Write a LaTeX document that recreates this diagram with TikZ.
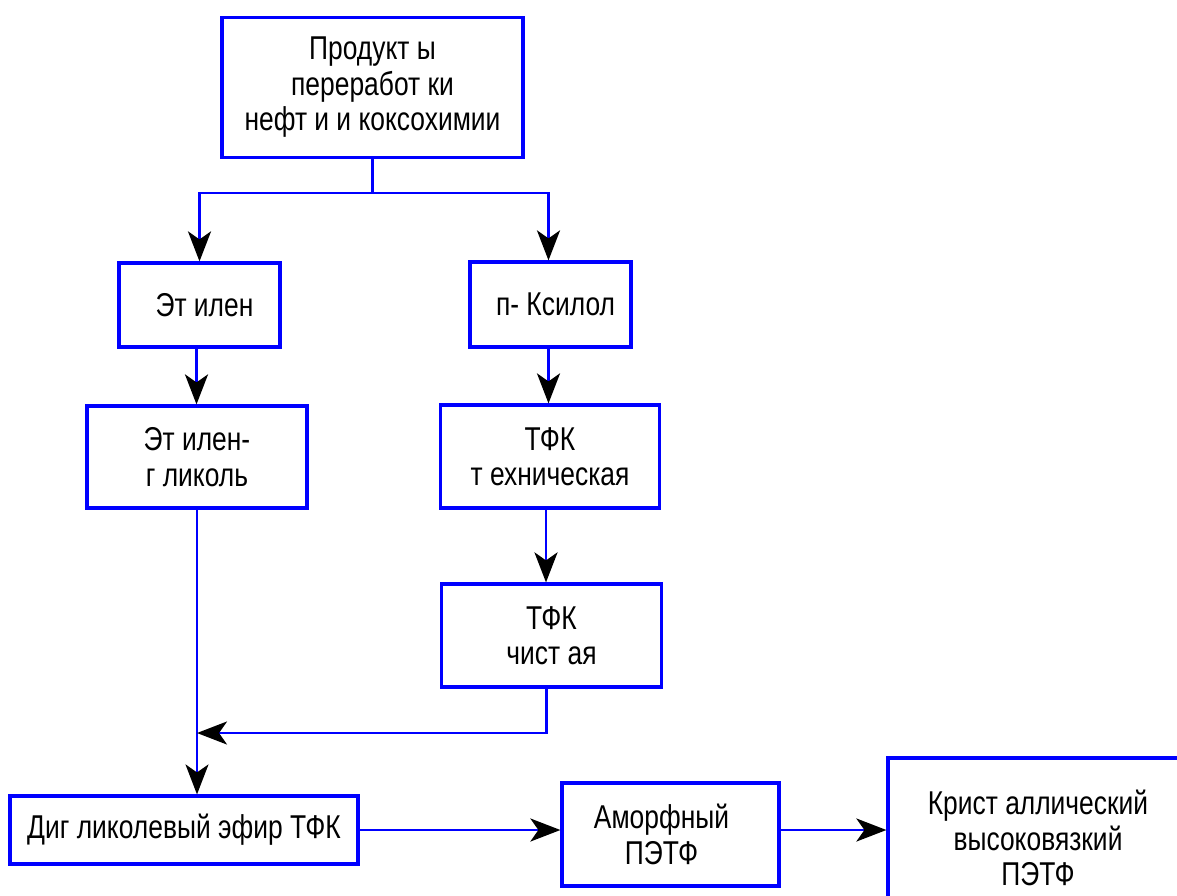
\documentclass[tikz,border=0pt]{standalone}
\usepackage{fontspec}
\setmainfont{Liberation Sans}[FakeStretch=0.8]
\usepackage{tikz}
\usetikzlibrary{arrows.meta,positioning}

\begin{document}
\begin{tikzpicture}[x=1pt, y=-1pt,
    box/.style={draw=blue, line width=3.2pt, inner sep=0pt, align=center, font=\fontsize{33}{35.5}\selectfont},
    arr/.style={draw=blue, line width=2.8pt, -{Stealth[length=30pt, width=23pt, inset=8pt, black]}}]
      \useasboundingbox (0,0) rectangle (1177,895);
      \clip (0,0) rectangle (1177,895);
      % boxes
      \node[box, minimum width=301pt, minimum height=140pt] (prod) at (372.5,87.5) {Продукт ы\\переработ ки\\нефт и и коксохимии};
      \node[box, minimum width=161pt, minimum height=84pt] (eth) at (199.5,305) {\hspace*{10pt}Эт илен};
      \node[box, minimum width=161pt, minimum height=85pt] (xyl) at (550.5,304.5) {\hspace*{10pt}п- Ксилол};
      \node[box, minimum width=220pt, minimum height=102pt] (glyc) at (197,457) {Эт илен-\\г ликоль};
      \node[box, minimum width=219pt, minimum height=103pt] (tfkt) at (550,456.5) {ТФК\\т ехническая};
      \node[box, minimum width=220pt, minimum height=103pt] (tfkc) at (551.5,635.5) {ТФК\\чист ая};
      \node[box, minimum width=348pt, minimum height=68pt] (diet) at (184,830) {Диг ликолевый эфир ТФК};
      \node[box, minimum width=217pt, minimum height=103pt] (amorph) at (670.5,834.5) {Аморфный\hspace*{18pt}\\ПЭТФ\hspace*{18pt}};
      \node[box, minimum width=300pt, minimum height=160pt] (cryst) at (1038,838) {Крист аллический\\высоковязкий\\ПЭТФ};
      % connectors
      \coordinate (fork) at (372.5,193);
      \coordinate (merge) at (197,733);
      \draw[blue, line width=2.8pt] (prod.south) -- (fork);
      \draw[arr] (fork) -| (eth.north);
      \draw[arr] (fork) -| ([xshift=-2pt]xyl.north);
      \draw[arr] ([xshift=-3pt]eth.south) -- ([xshift=-3pt]eth.south |- glyc.north);
      \draw[arr] ([xshift=-2pt]xyl.south) -- ([xshift=-2pt]xyl.south |- tfkt.north);
      \draw[arr] ([xshift=-4pt]tfkt.south) -- ([xshift=-4pt]tfkt.south |- tfkc.north);
      \draw[arr, line width=2pt] (glyc.south) -- (glyc.south |- diet.north);
      \draw[arr] ([xshift=-5pt]tfkc.south) |- (merge);
      \draw[arr] (diet.east) -- (diet.east -| amorph.west);
      \draw[arr] (amorph.east |- diet.east) -- (diet.east -| cryst.west);
    \end{tikzpicture}
\end{document}
